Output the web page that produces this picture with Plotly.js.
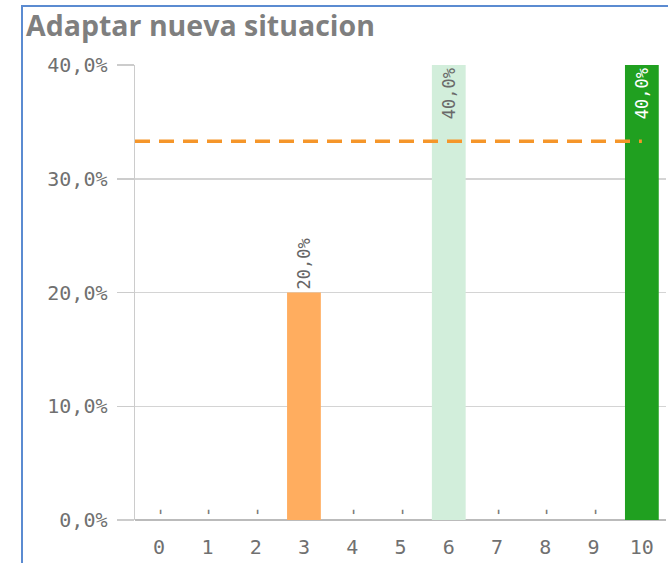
<!DOCTYPE html>
<html>
<head>
<meta charset="utf-8">
<script src="https://cdn.plot.ly/plotly-3.0.1.min.js"></script>
<style>
  html, body { margin: 0; padding: 0; background: #fff; overflow: hidden; }
  #chart { width: 668px; height: 563px; }
  #frame { position: absolute; left: 21px; top: 5px; width: 700px; height: 600px;
           border-left: 2px solid #5b8bd1; border-top: 2px solid #5b8bd1; pointer-events: none; }
</style>
</head>
<body>
<div id="chart"></div>
<div id="frame"></div>
<script>
const chartTitle = "Adaptar nueva situacion";
const categories = [0, 1, 2, 3, 4, 5, 6, 7, 8, 9, 10];
const values = [0, 0, 0, 20, 0, 0, 40, 0, 0, 0, 40];
const barColors = ["#ffad5f", "#ffad5f", "#ffad5f", "#ffad5f", "#ffad5f", "#ffad5f",
                   "#d2eedb", "#d2eedb", "#d2eedb", "#d2eedb", "#20a020"];
const labelColors = ["#777", "#777", "#777", "#666", "#777", "#777", "#6a6a6a", "#777", "#777", "#777", "#ffffff"];
const referenceValue = 33.3;
const yTicks = [0, 10, 20, 30, 40];

function fmt(v) { return v.toFixed(1).replace(".", ",") + "%"; }

const yMax = Math.max(...values);
const labels = values.map(v => v > 0 ? fmt(v) : "-");
const positions = values.map(v => v >= yMax ? "inside" : "outside");

const bars = {
  type: "bar",
  x: categories,
  y: values,
  width: 0.7,
  marker: { color: barColors, line: { width: 0 } },
  text: labels,
  textposition: positions,
  textangle: -90,
  insidetextanchor: "end",
  constraintext: "none",
  textfont: { family: "DejaVu Sans Mono", size: 17, color: labelColors },
  cliponaxis: false,
  hoverinfo: "skip"
};

const xStart = categories[0] - 0.5;
const xEnd = categories[categories.length - 1] + 0.5;

const refLine = {
  type: "scatter",
  mode: "lines",
  x: [xStart, categories[categories.length - 1]],
  y: [referenceValue, referenceValue],
  line: { color: "#f5962a", width: 3.5, dash: "15px,9px" },
  hoverinfo: "skip"
};

const layout = {
  width: 668,
  height: 563,
  margin: { l: 135, r: 2, t: 65, b: 43 },
  paper_bgcolor: "#fff",
  plot_bgcolor: "#fff",
  showlegend: false,
  separators: ",.",
  title: {
    text: "<b>" + chartTitle + "</b>",
    font: { family: "Open Sans", size: 28.5, color: "#7f7f7f" },
    x: 26 / 668, xref: "container", xanchor: "left",
    y: 1 - 16 / 563, yref: "container", yanchor: "top"
  },
  xaxis: {
    range: [xStart, xEnd],
    tickmode: "array",
    tickvals: categories,
    ticktext: categories.map(String),
    ticks: "",
    showgrid: false,
    zeroline: false,
    showline: false,
    tickfont: { family: "DejaVu Sans Mono", size: 20, color: "#707070" },
    ticklabelstandoff: 13,
    fixedrange: true
  },
  yaxis: {
    range: [0, 40],
    tickmode: "array",
    tickvals: yTicks,
    ticktext: yTicks.map(fmt),
    ticks: "outside",
    ticklen: 17,
    tickcolor: "#cccccc",
    tickwidth: 1.5,
    showgrid: true,
    gridcolor: "#d4d4d4",
    gridwidth: 1.5,
    zeroline: true,
    zerolinecolor: "#bbbbbb",
    zerolinewidth: 2,
    showline: true,
    linecolor: "#cccccc",
    linewidth: 1.5,
    tickfont: { family: "DejaVu Sans Mono", size: 20, color: "#707070" },
    ticklabelstandoff: 5,
    fixedrange: true
  }
};

Plotly.newPlot("chart", [bars, refLine], layout, { displayModeBar: false, staticPlot: true });
</script>
</body>
</html>
